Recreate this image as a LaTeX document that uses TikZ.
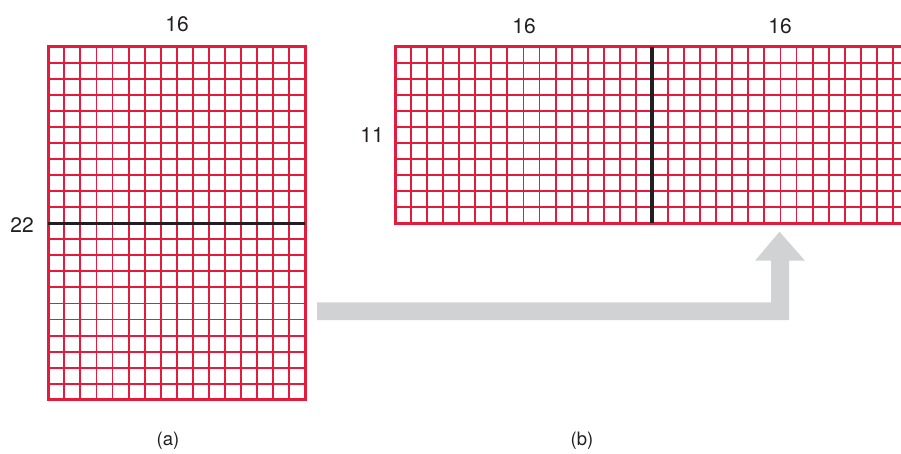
\documentclass[tikz,border=0pt]{standalone}
\usepackage{fontspec}
\setmainfont{TeX Gyre Heros}
\definecolor{gridred}{HTML}{E31B3C}
\definecolor{darkline}{HTML}{231F20}
\definecolor{arrowgray}{HTML}{D1D2D4}
\definecolor{txt}{HTML}{231F20}
\begin{document}
\begin{tikzpicture}[x=1pt,y=-1pt,
  innerline/.style={gridred,line width=1.9pt},
  outerline/.style={gridred,line width=3pt},
  splitline/.style={darkline,line width=3.2pt},
  numlabel/.style={font=\fontsize{21}{25}\selectfont,text=txt,inner sep=0pt},
  caplabel/.style={font=\fontsize{18.5}{22}\selectfont,text=txt,inner sep=0pt}]
\useasboundingbox (0,0) rectangle (901,453);
\clip (0,0) rectangle (901,453);
\def\c{16.06}
% grid (a)
\foreach \i in {1,...,15}
  \draw[innerline] ({48.3+\i*\c},46.5) -- ++(0,{22*\c});
\foreach \j in {1,...,21}
  \draw[innerline] (48.3,{46.5+\j*\c}) -- ++({16*\c},0);
\draw[outerline] (48.3,46.5) rectangle ++({16*\c},{22*\c});
\draw[splitline] (48.3,{46.5+11*\c}) -- ++({16*\c},0);
% grid (b)
\foreach \i in {1,...,31}
  \draw[innerline] ({395+\i*\c},46.5) -- ++(0,{11*\c});
\foreach \j in {1,...,10}
  \draw[innerline] (395,{46.5+\j*\c}) -- ++({32*\c},0);
\draw[outerline] (395,46.5) rectangle ++({32*\c},{11*\c});
\draw[splitline] ({395+16*\c},46.5) -- ++(0,{11*\c});
% arrow
\fill[arrowgray] (317,302.3) -- (771,302.3) -- (771,260.7) -- (755,260.7)
  -- (779.5,231.7) -- (805,260.7) -- (789,260.7) -- (789,320) -- (317,320) -- cycle;
% labels
\node[numlabel] (la16) at (177,24) {16};
\node[numlabel] (la22) at (22,225) {22};
\node[numlabel] (lb16a) at (524,26) {16};
\node[numlabel] (lb16b) at (780,26) {16};
\node[numlabel] (lb11) at (372,135) {11};
\node[caplabel] (capa) at (168,441) {(a)};
\node[caplabel] (capb) at (582,441) {(b)};
\end{tikzpicture}
\end{document}
